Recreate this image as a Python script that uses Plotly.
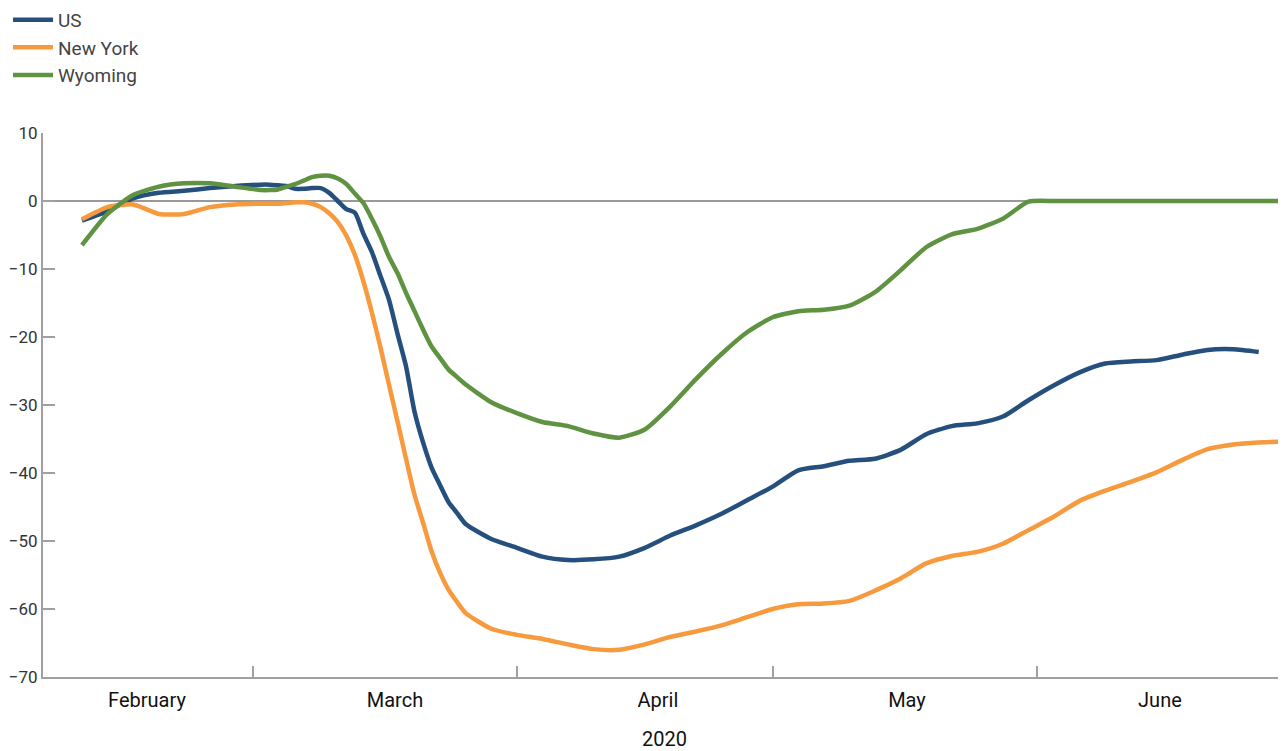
import plotly.graph_objects as go

dates = [
    "2020-02-10", "2020-02-13", "2020-02-16", "2020-02-19", "2020-02-22", "2020-02-25", "2020-02-28",
    "2020-03-02", "2020-03-03", "2020-03-04", "2020-03-05", "2020-03-06", "2020-03-07", "2020-03-08",
    "2020-03-09", "2020-03-10", "2020-03-11", "2020-03-12", "2020-03-13", "2020-03-14", "2020-03-15",
    "2020-03-16", "2020-03-17", "2020-03-18", "2020-03-19", "2020-03-20", "2020-03-21", "2020-03-22",
    "2020-03-23", "2020-03-24", "2020-03-25", "2020-03-26", "2020-03-29",
    "2020-04-01", "2020-04-04", "2020-04-07", "2020-04-10", "2020-04-13", "2020-04-16", "2020-04-19",
    "2020-04-22", "2020-04-25", "2020-04-28",
    "2020-05-01", "2020-05-04", "2020-05-07", "2020-05-10", "2020-05-13", "2020-05-16", "2020-05-19",
    "2020-05-22", "2020-05-25", "2020-05-28", "2020-05-31",
    "2020-06-03", "2020-06-06", "2020-06-09", "2020-06-12", "2020-06-15", "2020-06-18", "2020-06-21",
    "2020-06-24", "2020-06-27", "2020-06-30",
]

us = [
    -2.9, -1.5, 0.4, 1.2, 1.5, 1.9, 2.2,
    2.4, 2.4, 2.3, 2.2, 1.8, 1.8, 1.9,
    1.9, 1.2, 0.0, -1.2, -1.7, -4.8, -7.5,
    -11.0, -14.5, -19.5, -24.3, -31.0, -35.5, -39.2,
    -41.8, -44.3, -45.9, -47.5, -49.7,
    -51.0, -52.3, -52.8, -52.7, -52.3, -51.0, -49.2,
    -47.7, -46.0, -44.0,
    -42.0, -39.6, -39.0, -38.2, -37.9, -36.6, -34.3,
    -33.1, -32.7, -31.7, -29.3,
    -27.1, -25.2, -23.9, -23.6, -23.4, -22.6, -21.9,
    -21.8, -22.2,
]

new_york = [
    -2.7, -0.9, -0.5, -1.9, -1.9, -0.9, -0.5,
    -0.4, -0.4, -0.4, -0.3, -0.2, -0.2, -0.4,
    -0.9, -1.8, -3.1, -5.1, -7.9, -11.8, -16.4,
    -21.5, -27.0, -32.4, -37.9, -43.2, -47.3, -51.5,
    -54.7, -57.2, -59.0, -60.6, -62.9,
    -63.8, -64.4, -65.2, -65.9, -66.0, -65.2, -64.1,
    -63.3, -62.4, -61.2,
    -60.0, -59.3, -59.2, -58.8, -57.3, -55.5, -53.3,
    -52.2, -51.6, -50.4, -48.4,
    -46.4, -44.1, -42.6, -41.3, -39.9, -38.1, -36.5,
    -35.8, -35.5, -35.4,
]

wyoming = [
    -6.5, -1.9, 0.9, 2.1, 2.6, 2.6, 2.1,
    1.6, 1.6, 1.7, 2.1, 2.5, 3.0, 3.5,
    3.7, 3.7, 3.3, 2.5, 1.1, -0.3, -2.6,
    -5.2, -8.2, -10.6, -13.5, -16.2, -18.9, -21.4,
    -23.1, -24.8, -25.9, -27.0, -29.6,
    -31.2, -32.5, -33.1, -34.2, -34.8, -33.6, -30.2,
    -26.2, -22.5, -19.3,
    -17.1, -16.2, -16.0, -15.4, -13.4, -10.2, -6.8,
    -4.9, -4.1, -2.6, -0.1,
    0.0, 0.0, 0.0, 0.0, 0.0, 0.0, 0.0,
    0.0, 0.0, 0.0,
]

month_names = ["February", "March", "April", "May", "June"]
month_label_dates = ["2020-02-17 15:00", "2020-03-17 17:00", "2020-04-17 13:00",
                     "2020-05-16 18:00", "2020-06-15 10:00"]
month_starts = ["2020-03-01", "2020-04-01", "2020-05-01", "2020-06-01"]
y_ticks = [10, 0, -10, -20, -30, -40, -50, -60, -70]
x_range = ["2020-02-05 10:20", "2020-06-30 04:48"]

series = [
    ("US", us, "#254f7c"),
    ("New York", new_york, "#f7993d"),
    ("Wyoming", wyoming, "#5f9341"),
]

FONT = "Roboto"
AXIS_GREY = "#a0a0a0"

fig = go.Figure()
for name, vals, color in series:
    fig.add_trace(go.Scatter(
        x=dates[:len(vals)], y=vals, name=name, mode="lines",
        line=dict(color=color, width=4.5, shape="spline", smoothing=0.6),
    ))

# invisible carrier for the month-label axis
fig.add_trace(go.Scatter(x=[dates[0]], y=[None], xaxis="x2", showlegend=False,
                         hoverinfo="skip", mode="lines"))

fig.update_layout(
    width=1278, height=743,
    margin=dict(l=35, r=0, t=125, b=74, autoexpand=False),
    paper_bgcolor="white", plot_bgcolor="white",
    font=dict(family=FONT, color="#333333", size=17),
    showlegend=True,
    legend=dict(
        xref="container", yref="paper", x=0.0, y=1.243,
        xanchor="left", yanchor="top",
        font=dict(family=FONT, size=19, color="#444444"),
        bgcolor="rgba(0,0,0,0)", tracegroupgap=0, itemwidth=40,
    ),
    xaxis=dict(
        type="date", automargin=False, range=x_range,
        tickvals=month_starts, showticklabels=False,
        ticks="inside", ticklen=11, tickwidth=1.5, tickcolor=AXIS_GREY,
        showline=True, linecolor=AXIS_GREY, linewidth=2,
        showgrid=False, zeroline=False,
    ),
    xaxis2=dict(
        type="date", automargin=False, range=x_range,
        overlaying="x", side="bottom", anchor="y",
        tickvals=month_label_dates, ticktext=month_names,
        ticks="", showline=False, showgrid=False, zeroline=False,
        ticklabelstandoff=9,
        tickfont=dict(family=FONT, size=20, color="#111111"),
        title=dict(text="2020", font=dict(family=FONT, size=20, color="#111111"), standoff=25),
    ),
    yaxis=dict(
        automargin=False,
        range=[-70, 10], tickvals=y_ticks,
        ticks="inside", ticklen=12, tickwidth=1.5, tickcolor=AXIS_GREY,
        showline=True, linecolor=AXIS_GREY, linewidth=2,
        showgrid=False,
        zeroline=True, zerolinecolor="#999999", zerolinewidth=1.5,
        tickfont=dict(family=FONT, size=17, color="#333333"),
    ),
)

fig.write_html("out.html")
